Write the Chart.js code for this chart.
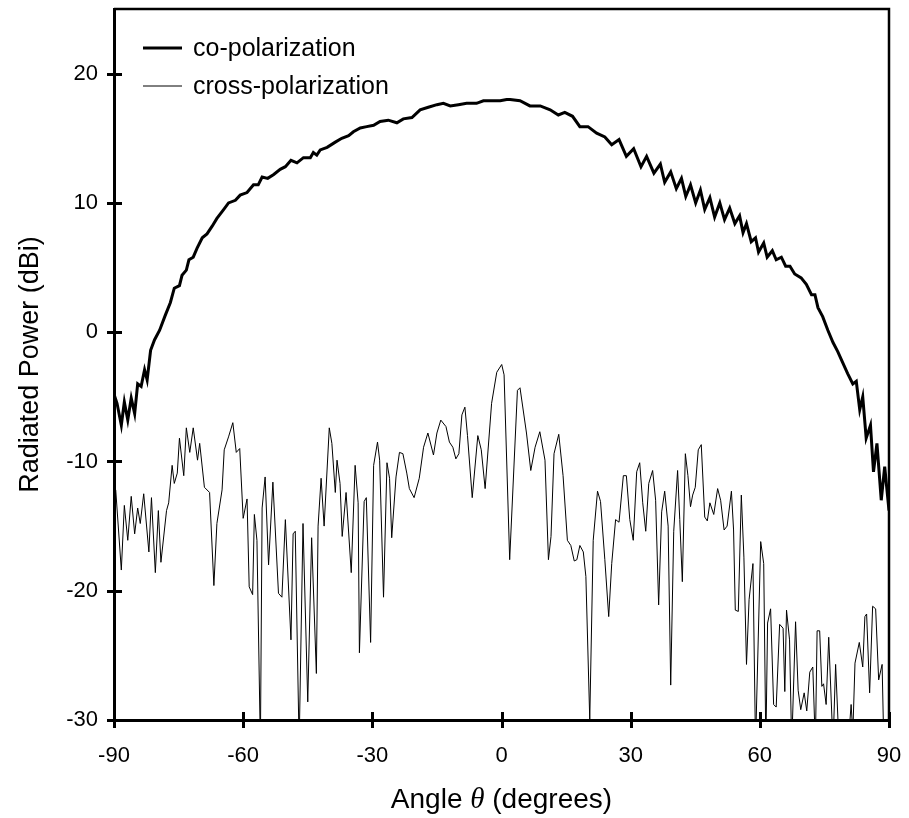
<!DOCTYPE html>
<html lang="en">
<head>
    <meta charset="UTF-8">
    <title>Radiated Power</title>
    <script src="https://cdn.jsdelivr.net/npm/chart.js"></script>
    <style>
        html, body { margin: 0; padding: 0; background: #fff; }
        canvas { display: block; }
    </style>
</head>
<body>
    <canvas id="myChart" width="909" height="818"></canvas>

    <script>
        // co-polarization (thick line)
        const coAngle = [-90, -89.3, -88.3, -87.6, -86.8, -86.0, -85.2, -84.5, -83.7, -82.9, -82.3, -81.5, -80.6, -79.4,
            -78.1, -76.9, -76.0, -74.8, -74.2, -73.2, -72.6, -71.6, -70.7, -69.5, -68.4, -67.2, -66.1, -64.5, -63.4,
            -61.8, -60.7, -59.1, -57.6, -56.5, -55.6, -54.3, -52.9, -51.4, -50.2, -48.9, -47.5, -46.0, -44.4, -43.7,
            -42.9, -42.1, -40.5, -38.6, -37.1, -35.5, -34.4, -32.8, -31.3, -29.7, -28.2, -26.3, -24.3, -22.8, -20.8,
            -18.9, -17.0, -15.0, -13.5, -11.9, -10.0, -8.1, -5.8, -4.2, -2.7, -0.3, 1.2, 2.0, 4.3, 6.6, 9.0, 11.3,
            13.2, 14.7, 16.5, 18.2, 20.1, 22.1, 24.0, 25.6, 27.3, 29.0, 30.7, 32.4, 33.7, 35.4, 36.9, 37.9, 39.3,
            40.6, 41.8, 42.8, 43.9, 45.1, 46.2, 47.2, 48.4, 49.5, 50.7, 51.8, 53.0, 54.2, 55.3, 56.1, 56.9, 58.0,
            59.0, 59.7, 60.9, 61.7, 62.9, 63.8, 65.0, 66.0, 67.0, 68.1, 69.6, 70.8, 72.0, 72.8, 73.5, 74.6, 75.8,
            77.0, 78.1, 79.3, 80.4, 81.6, 82.4, 83.2, 83.9, 84.7, 85.7, 86.4, 87.2, 88.2, 89.0, 90];
        const coPower = [-4.8, -5.5, -7.2, -5.4, -6.8, -5.1, -6.3, -4.0, -4.2, -2.9, -3.7, -1.4, -0.6, 0.15,
            1.3, 2.3, 3.4, 3.6, 4.4, 4.8, 5.6, 5.8, 6.5, 7.3, 7.6, 8.2, 8.8, 9.5, 10.0,
            10.2, 10.6, 10.8, 11.4, 11.4, 12.0, 11.9, 12.2, 12.6, 12.8, 13.3, 13.1, 13.5, 13.5, 13.9,
            13.7, 14.1, 14.3, 14.7, 15.0, 15.2, 15.5, 15.8, 15.9, 16.0, 16.3, 16.4, 16.2, 16.5, 16.6,
            17.2, 17.4, 17.6, 17.7, 17.5, 17.6, 17.7, 17.7, 17.9, 17.9, 17.9, 18.0, 18.0, 17.9, 17.5, 17.5, 17.2,
            16.8, 17.0, 16.7, 15.9, 15.9, 15.4, 15.1, 14.5, 14.9, 13.6, 14.2, 12.8, 13.6, 12.3, 13.0, 11.6, 12.4,
            11.1, 11.9, 10.5, 11.4, 10.0, 11.0, 9.5, 10.4, 8.9, 10.0, 8.7, 9.6, 8.4, 9.0, 7.7, 8.4, 7.0,
            7.3, 6.2, 6.9, 5.8, 6.3, 5.6, 5.8, 5.1, 5.1, 4.5, 4.2, 3.7, 2.9, 2.9, 1.9, 1.2, 0.15,
            -0.8, -1.5, -2.4, -3.2, -4.0, -3.8, -6.0, -5.0, -8.2, -7.2, -10.8, -8.6, -13.0, -10.4, -13.8];

        // cross-polarization (thin line)
        const crossAngle = [-89.6, -88.3, -87.6, -86.8, -86.0, -85.2, -84.5, -83.9, -83.1, -81.9, -81.3, -80.4, -79.7,
            -79.1, -77.8, -77.3, -76.5, -76.0, -75.3, -74.8, -73.8, -73.2, -72.4, -71.6, -70.6, -70.1, -69.0, -67.8,
            -66.8, -66.1, -64.9, -64.4, -63.4, -62.4, -61.6, -60.8, -60.0, -59.1, -58.6, -57.8, -57.4, -56.8, -56.0,
            -55.6, -54.9, -54.1, -53.1, -51.8, -51.0, -50.2, -48.9, -48.4, -47.9, -47.0, -46.1, -45.0, -44.1, -43.0,
            -42.6, -41.9, -41.2, -40.0, -39.4, -38.6, -38.2, -37.5, -37.0, -36.1, -34.9, -34.0, -33.3, -33.0, -31.9,
            -31.4, -30.4, -29.7, -28.8, -28.3, -27.4, -26.6, -26.0, -25.5, -24.5, -23.7, -22.9, -22.0, -21.4, -20.3,
            -19.1, -18.1, -17.1, -15.8, -15.0, -14.1, -12.9, -12.1, -11.3, -10.6, -9.9, -9.2, -8.5, -7.9, -6.8,
            -5.5, -4.7, -3.8, -2.3, -1.1, 0.05, 0.6, 1.9, 3.7, 4.3, 5.8, 6.8, 7.8, 8.9, 10.1, 10.9, 11.5, 12.2,
            13.3, 14.3, 15.3, 16.1, 16.9, 17.5, 18.2, 19.0, 19.6, 20.5, 21.3, 22.3, 23.0, 24.0, 24.9, 25.6, 26.5,
            27.3, 28.3, 29.0, 29.8, 30.6, 31.4, 32.1, 32.8, 33.5, 34.2, 35.1, 35.8, 36.5, 37.2, 37.9, 38.7, 39.3,
            40.0, 40.9, 41.4, 42.0, 42.7, 43.3, 43.9, 44.4, 45.0, 45.7, 46.4, 47.2, 47.8, 48.4, 49.3, 50.2, 50.9,
            51.7, 52.4, 53.4, 53.9, 54.3, 55.0, 55.7, 56.3, 56.9, 57.5, 58.4, 59.0, 60.2, 60.9, 61.4, 61.8, 62.5,
            63.2, 63.8, 64.6, 65.4, 65.8, 66.2, 66.9, 67.4, 68.3, 68.9, 69.5, 70.3, 70.9, 71.6, 72.3, 72.9, 73.3,
            73.9, 74.4, 74.8, 75.4, 76.0, 77.0, 77.6, 78.4, 79.5, 80.5, 81.2, 81.6, 82.1, 83.1, 83.9, 84.4, 84.8,
            85.5, 86.2, 86.9, 87.6, 88.4, 88.8, 90];
        const crossPower = [-12.2, -18.4, -13.4, -16.1, -12.7, -15.6, -13.6, -14.8, -12.5, -17.0, -12.8, -18.6, -13.8,
            -17.8, -13.8, -13.2, -10.3, -11.7, -10.9, -8.2, -11.1, -7.4, -9.3, -7.4, -9.9, -8.6, -12.0, -12.4,
            -19.6, -14.8, -12.2, -9.1, -8.1, -7.0, -9.3, -9.0, -14.4, -12.9, -19.7, -20.3, -14.1, -16.1, -32,
            -13.6, -11.2, -18.0, -11.6, -20.2, -20.5, -14.5, -23.8, -15.6, -15.4, -32, -14.8, -28.6, -15.9, -26.4,
            -15.0, -11.3, -15.0, -7.4, -8.6, -12.4, -9.9, -11.7, -15.8, -12.4, -18.6, -10.3, -13.2, -24.8, -13.1,
            -12.8, -24.0, -10.3, -8.5, -9.9, -20.5, -10.1, -11.3, -15.9, -11.2, -9.3, -9.4, -10.9, -12.1, -12.8,
            -11.3, -8.9, -7.8, -9.5, -7.8, -6.8, -7.3, -8.5, -8.9, -9.8, -9.4, -6.4, -5.8, -8.0, -12.8,
            -8.0, -9.1, -12.1, -5.5, -3.1, -2.5, -3.3, -17.6, -4.5, -4.3, -7.8, -10.7, -8.9, -7.7, -9.9, -17.6, -15.8, -9.4,
            -7.9, -11.1, -16.1, -16.5, -17.7, -17.6, -16.5, -17.0, -18.9, -30, -16.1, -12.3, -13.1, -17.6, -22.0, -17.9, -14.5,
            -14.7, -11.1, -11.1, -14.5, -16.1, -10.8, -10.1, -13.2, -15.4, -11.7, -10.7, -13.0, -21.1, -13.9, -12.3, -15.0, -27.3,
            -15.4, -10.7, -14.5, -19.3, -9.4, -11.1, -13.5, -12.6, -12.0, -9.1, -8.7, -14.3, -14.6, -13.2, -14.1, -12.1, -13.0,
            -15.3, -15.0, -12.3, -15.3, -21.5, -21.6, -12.6, -17.4, -25.7, -20.7, -17.9, -32, -16.2, -17.9, -32, -22.5, -21.4,
            -28.8, -29.0, -22.6, -22.9, -27.8, -21.5, -23.8, -32, -22.4, -27.7, -29.2, -27.9, -29.3, -26.3, -25.9, -32, -23.1,
            -23.1, -27.4, -27.2, -28.8, -23.6, -32, -25.7, -32, -33, -32, -28.8, -31, -25.6, -24.0, -25.9, -22.0, -21.8,
            -27.9, -21.2, -21.4, -26.9, -25.7, -32, -33];

        const xTicks = [-90, -60, -30, 0, 30, 60, 90];
        const yTicks = [-30, -20, -10, 0, 10, 20];

        const font = 'Liberation Sans, Arial, sans-serif';
        const ctx = document.getElementById('myChart').getContext('2d');

        // frame, crossing tick marks, legend and x title
        const decor = {
            id: 'decor',
            afterDraw(chart) {
                const c = chart.ctx;
                const a = chart.chartArea;
                const xs = chart.scales.x, ys = chart.scales.y;
                c.save();
                c.strokeStyle = '#000';
                c.lineWidth = 2.5;
                c.beginPath();
                c.moveTo(a.left, a.top);
                c.lineTo(a.right, a.top);
                c.lineTo(a.right, a.bottom);
                c.stroke();

                c.lineWidth = 3;
                c.beginPath();
                yTicks.forEach(v => {
                    const y = Math.round(ys.getPixelForValue(v)) + 0.5;
                    c.moveTo(a.left - 7, y);
                    c.lineTo(a.left + 8, y);
                });
                xTicks.forEach(v => {
                    const x = Math.round(xs.getPixelForValue(v)) + 0.5;
                    c.moveTo(x, a.bottom - 8);
                    c.lineTo(x, a.bottom + 8);
                });
                c.stroke();

                // legend
                c.font = '25px ' + font;
                c.fillStyle = '#000';
                c.textBaseline = 'middle';
                chart.data.datasets.forEach((ds, i) => {
                    const y = 48 + i * 38;
                    c.lineWidth = ds.borderWidth;
                    c.beginPath();
                    c.moveTo(143, y);
                    c.lineTo(182, y);
                    c.stroke();
                    c.fillText(ds.label, 193, y + 1);
                });

                // x axis title with italic theta
                const parts = [
                    ['Angle ', '28px ' + font],
                    ['\u03b8', 'italic 29px "Liberation Serif", "Times New Roman", serif'],
                    [' (degrees)', '28px ' + font]
                ];
                let w = 0;
                parts.forEach(p => { c.font = p[1]; w += c.measureText(p[0]).width; });
                let x = (a.left + a.right) / 2 - w / 2;
                c.textBaseline = 'alphabetic';
                parts.forEach(p => {
                    c.font = p[1];
                    c.fillText(p[0], x, 808);
                    x += c.measureText(p[0]).width;
                });
                c.restore();
            }
        };

        const chart = new Chart(ctx, {
            type: 'scatter',
            data: {
                datasets: [
                    {
                        label: 'co-polarization',
                        data: coAngle.map((a, i) => ({ x: a, y: coPower[i] })),
                        showLine: true,
                        borderColor: '#000',
                        borderWidth: 3,
                        pointRadius: 0,
                        tension: 0,
                        clip: 0,
                    },
                    {
                        label: 'cross-polarization',
                        data: crossAngle.map((a, i) => ({ x: a, y: crossPower[i] })),
                        showLine: true,
                        borderColor: '#000',
                        borderWidth: 1,
                        pointRadius: 0,
                        tension: 0,
                        clip: 0,
                    },
                ],
            },
            options: {
                responsive: false,
                animation: false,
                layout: { padding: { left: 0, right: 20, top: 9, bottom: 0 } },
                plugins: {
                    legend: { display: false },
                    tooltip: { enabled: false },
                },
                scales: {
                    x: {
                        type: 'linear',
                        min: -90,
                        max: 90,
                        afterBuildTicks: s => { s.ticks = xTicks.map(v => ({ value: v })); },
                        afterFit: s => { s.height = 98; s.paddingLeft = 0; s.paddingRight = 0; },
                        grid: { display: false, drawTicks: false },
                        border: { display: true, color: '#000', width: 3 },
                        ticks: {
                            color: '#000',
                            font: { family: font, size: 22 },
                            padding: 23,
                            maxRotation: 0,
                        },
                    },
                    y: {
                        type: 'linear',
                        min: -30,
                        max: 25,
                        afterBuildTicks: s => { s.ticks = yTicks.map(v => ({ value: v })); },
                        afterFit: s => { s.width = 114; s.paddingTop = 0; s.paddingBottom = 0; },
                        grid: { display: false, drawTicks: false },
                        border: { display: true, color: '#000', width: 3 },
                        ticks: {
                            color: '#000',
                            font: { family: font, size: 22 },
                            padding: 16,
                        },
                        title: {
                            display: true,
                            text: 'Radiated Power (dBi)',
                            color: '#000',
                            font: { family: font, size: 27 },
                            padding: { top: 14, bottom: 0 },
                        },
                    },
                },
            },
            plugins: [decor],
        });
    </script>
</body>
</html>
